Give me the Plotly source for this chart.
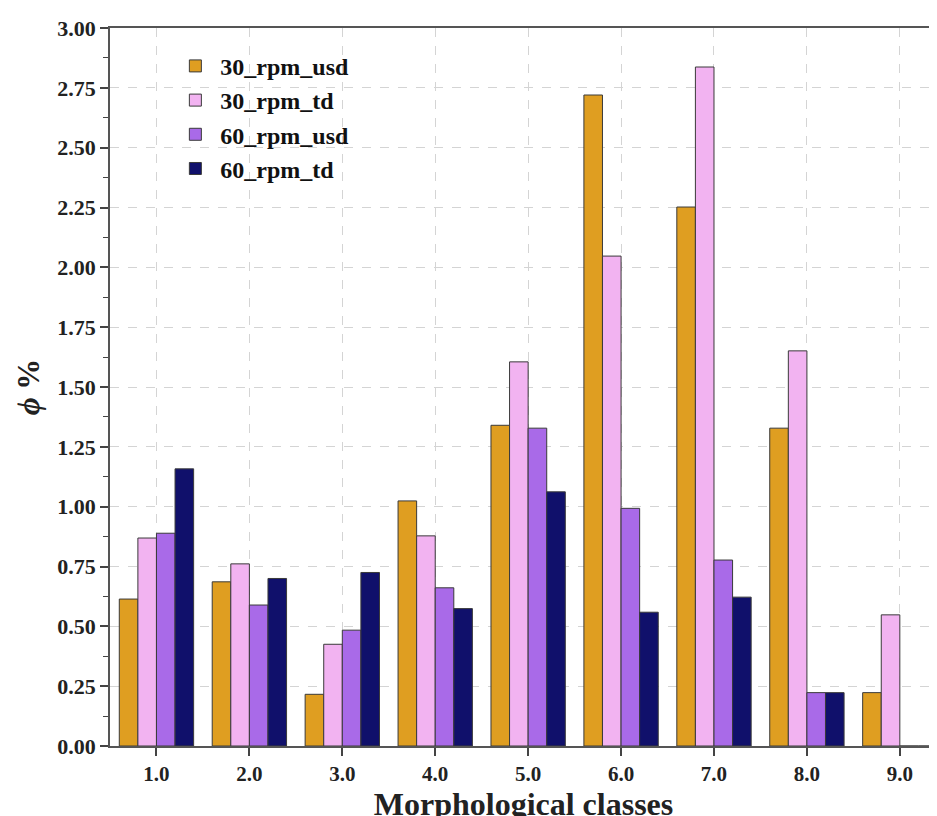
import plotly.graph_objects as go

classes = [1.0, 2.0, 3.0, 4.0, 5.0, 6.0, 7.0, 8.0, 9.0]
tick_labels = ["1.0", "2.0", "3.0", "4.0", "5.0", "6.0", "7.0", "8.0", "9.0"]
rpm30_usd = [0.614, 0.686, 0.216, 1.024, 1.340, 2.720, 2.252, 1.328, 0.223]
rpm30_td = [0.869, 0.761, 0.425, 0.878, 1.605, 2.047, 2.837, 1.651, 0.548]
rpm60_usd = [0.889, 0.589, 0.484, 0.661, 1.328, 0.993, 0.777, 0.223, 0]
rpm60_td = [1.158, 0.700, 0.725, 0.574, 1.062, 0.559, 0.622, 0.223, 0]
y_ticks = [0, 0.25, 0.5, 0.75, 1.0, 1.25, 1.5, 1.75, 2.0, 2.25, 2.5, 2.75, 3.0]

series = [
    ("30_rpm_usd", rpm30_usd, "#DF9E21"),
    ("30_rpm_td", rpm30_td, "#F2B3F1"),
    ("60_rpm_usd", rpm60_usd, "#A96AE8"),
    ("60_rpm_td", rpm60_td, "#10106B"),
]

FONT = "Liberation Serif"

fig = go.Figure()
for name, vals, col in series:
    fig.add_trace(go.Bar(
        x=classes, y=vals, name="<b>%s</b>" % name,
        marker=dict(color=col, line=dict(color="#3a3a3a", width=1)),
    ))

# page body has an 8px margin, so the figure is offset by 8px on screen
fig.update_layout(
    width=937, height=816,
    margin=dict(l=102, r=8, t=15, b=78),
    paper_bgcolor="white", plot_bgcolor="white",
    barmode="group", bargap=0.2, bargroupgap=0,
    font=dict(family=FONT, color="#222", size=20),
    showlegend=True,
    legend=dict(
        x=0.073, y=0.978, xanchor="left", yanchor="top",
        font=dict(family=FONT, size=24, color="#111"),
        bgcolor="rgba(0,0,0,0)", traceorder="normal",
        itemwidth=40,
    ),
)

fig.update_xaxes(
    range=[0.5, 9.4],
    tickmode="array", tickvals=classes,
    ticktext=["<b>%s</b>" % t for t in tick_labels],
    tickfont=dict(family=FONT, size=21, color="#222"),
    ticks="outside", ticklen=8, tickwidth=1.5, tickcolor="#444",
    showline=True, linecolor="#555", linewidth=1.5, mirror=True,
    showgrid=True, gridcolor="#d4d4d4", griddash="dash", gridwidth=1,
    title=dict(text="<b>Morphological classes</b>",
               font=dict(family=FONT, size=32, color="#222"), standoff=0),
    zeroline=False,
)

fig.update_yaxes(
    range=[0, 3.0],
    tickmode="array",
    tickvals=y_ticks,
    ticktext=["<b>%.2f</b>" % v for v in y_ticks],
    tickfont=dict(family=FONT, size=22, color="#222"),
    ticklabeloverflow="allow",
    ticks="outside", ticklen=8, tickwidth=1.5, tickcolor="#444",
    minor=dict(ticks="outside", ticklen=5, tickwidth=1.2, tickcolor="#444",
               dtick=0.125, tick0=0, showgrid=False),
    showline=True, linecolor="#555", linewidth=1.5, mirror=False,
    showgrid=True, gridcolor="#d4d4d4", griddash="dash", gridwidth=1,
    title=dict(text="<b><i>ϕ</i> %</b>",
               font=dict(family=FONT, size=31, color="#222"), standoff=8),
    zeroline=False,
)

fig.write_html("out.html")
